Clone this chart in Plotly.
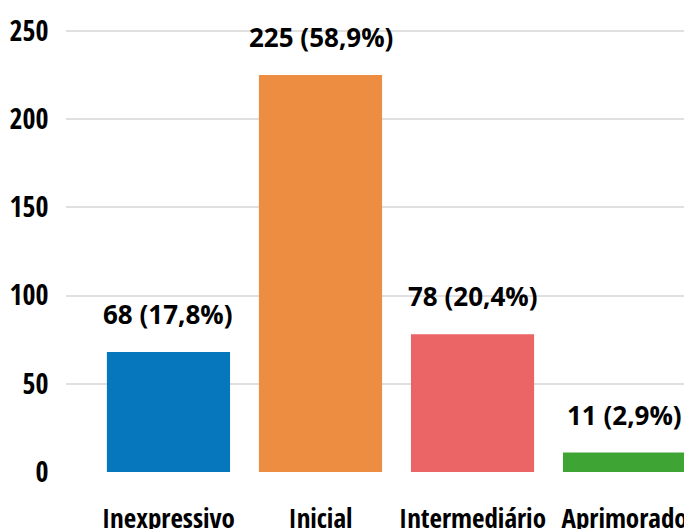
import plotly.graph_objects as go

categories = ["Inexpressivo", "Inicial", "Intermediário", "Aprimorado"]
values = [68, 225, 78, 11]
percents = ["17,8%", "58,9%", "20,4%", "2,9%"]
colors = ["#0677BD", "#EC8D42", "#EB6466", "#3EA535"]
y_ticks = [0, 50, 100, 150, 200, 250]

COND = "Open Sans Condensed, Roboto Condensed, sans-serif"
REG = "Open Sans, sans-serif"

fig = go.Figure()
fig.add_trace(go.Bar(
    x=categories, y=values, marker_color=colors, marker_line_width=0,
    hoverinfo="skip",
))

for c, v, p in zip(categories, values, percents):
    fig.add_annotation(
        x=c, y=v, text=f"<b>{v} ({p})</b>", showarrow=False,
        yanchor="middle", yshift=38,
        font=dict(family=REG, size=26, color="#000000"),
    )

fig.update_layout(
    width=684, height=529,
    margin=dict(l=66, r=0, t=29, b=57),
    paper_bgcolor="white", plot_bgcolor="white",
    bargap=0.19, showlegend=False,
    font=dict(family=COND, color="#000000"),
)
fig.update_xaxes(
    range=[-0.674, 3.391], showgrid=False, showline=False, zeroline=False,
    automargin=False, tickangle=0,
    ticks="outside", ticklen=23, tickcolor="rgba(0,0,0,0)",
    tickfont=dict(family=COND, size=27, color="#000000", weight="bold"),
)
fig.update_yaxes(
    range=[0, 251], tickvals=y_ticks, showgrid=True, gridcolor="#E0E0E0",
    gridwidth=2, zeroline=False, showline=False, automargin=False,
    ticks="outside", ticklen=11, tickcolor="rgba(0,0,0,0)",
    tickfont=dict(family=COND, size=28, color="#000000", weight="bold"),
)

fig.write_html(
    "out.html",
    config={"displayModeBar": False},
    post_script="document.body.style.margin='0';document.body.style.overflow='hidden';",
)
